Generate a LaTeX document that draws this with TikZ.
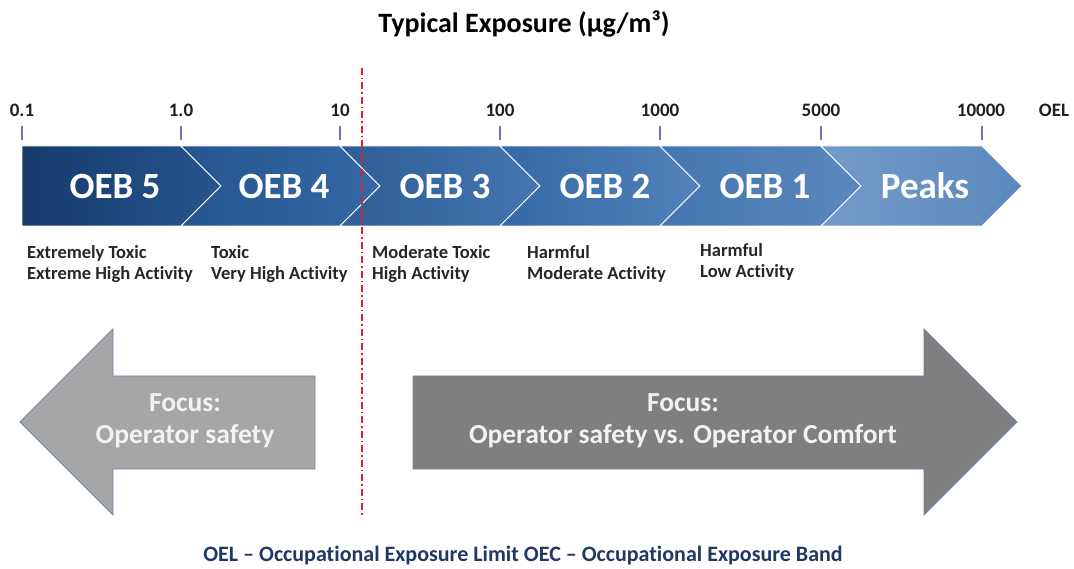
\documentclass[tikz,border=0pt]{standalone}
\usepackage{fontspec}
\setmainfont{Carlito}[Ligatures=NoCommon]
\usetikzlibrary{positioning}

\definecolor{bandA}{HTML}{163B6B}
\definecolor{bandB}{HTML}{25558F}
\definecolor{bandC}{HTML}{3468A6}
\definecolor{bandD}{HTML}{4576B1}
\definecolor{bandE}{HTML}{5382BA}
\definecolor{bandF}{HTML}{5B88BC}
\definecolor{peakL}{HTML}{729BC8}
\definecolor{tickblue}{HTML}{6F72C9}
\definecolor{splitred}{HTML}{E3202B}
\definecolor{lightarrow}{HTML}{A6A6A6}
\definecolor{darkarrow}{HTML}{7F7F7F}
\definecolor{arrowrim}{HTML}{7084A6}
\definecolor{notenavy}{HTML}{203864}

\begin{document}
\begin{tikzpicture}[
x=1pt, y=-1pt,
tick/.style={draw=tickblue, line width=1.4pt},
ticklabel/.style={%
    font=\bfseries\fontsize{19}{22}\selectfont,
    text=black!88,
},
band/.style={%
    draw=white, line width=0.9pt,
},
bandlabel/.style={%
    text=white,
    font=\bfseries\fontsize{37}{42}\selectfont,
},
descr/.style={%
    anchor=north west, align=left, inner sep=0pt,
    text=black!85,
    font=\bfseries\fontsize{18.5}{21}\selectfont,
},
focusarrow/.style={%
    draw=arrowrim, line width=0.8pt,
},
focustext/.style={%
    align=center, text=white!95!black,
    font=\bfseries\fontsize{27.5}{32}\selectfont,
},
]
\useasboundingbox (0,0) rectangle (1074,569);

% Title
\node[font=\bfseries\fontsize{28}{32}\selectfont] at (524,24) (title)
    {Typical Exposure (µg/m³)};

% Ticks and scale values
\coordinate (t0) at (22,126);
\coordinate (t1) at (181,126);
\coordinate (t2) at (340,126);
\coordinate (t3) at (500,126);
\coordinate (t4) at (660,126);
\coordinate (t5) at (821,126);
\coordinate (t6) at (982,126);
\foreach \t in {t0,t1,t2,t3,t4,t5,t6}
    \draw[tick] (\t) -- ++(0,14);

\node[ticklabel] at (22,110)   (v0)   {0.1};
\node[ticklabel] at (181,110)  (v1)   {1.0};
\node[ticklabel] at (340,110)  (v2)   {10};
\node[ticklabel] at (500,110)  (v3)   {100};
\node[ticklabel] at (660,110)  (v4)   {1000};
\node[ticklabel] at (821,110)  (v5)   {5000};
\node[ticklabel] at (981,110)  (v6)   {10000};
\node[ticklabel] at (1054,110) (oel)  {OEL};

% Chevron band
\draw[band, left color=bandA, right color=bandB]
    (22,146) -- (181,146) -- (221,186) -- (181,226) -- (22,226) -- cycle;
\draw[band, left color=bandB, right color=bandC]
    (181,146) -- (340,146) -- (380,186) -- (340,226) -- (181,226) -- (221,186) -- cycle;
\draw[band, left color=bandC!90!black, right color=bandD]
    (340,146) -- (500,146) -- (540,186) -- (500,226) -- (340,226) -- (380,186) -- cycle;
\draw[band, left color=bandC, right color=bandE]
    (500,146) -- (660,146) -- (700,186) -- (660,226) -- (500,226) -- (540,186) -- cycle;
\draw[band, left color=bandD, right color=bandF]
    (660,146) -- (821,146) -- (861,186) -- (821,226) -- (660,226) -- (700,186) -- cycle;
\draw[band, left color=peakL, right color=bandF]
    (821,146) -- (982,146) -- (1022,186) -- (982,226) -- (821,226) -- (861,186) -- cycle;

\node[bandlabel] at (115,186) (oeb5)  {OEB 5};
\node[bandlabel] at (284,186) (oeb4)  {OEB 4};
\node[bandlabel] at (445,186) (oeb3)  {OEB 3};
\node[bandlabel] at (605,186) (oeb2)  {OEB 2};
\node[bandlabel] at (765,186) (oeb1)  {OEB 1};
\node[bandlabel] at (925,186) (peaks) {Peaks};

% Descriptions under the band
\node[descr] at (27,245)  (d5) {Extremely Toxic\\Extreme High Activity};
\node[descr] at (211,245) (d4) {Toxic\\Very High Activity};
\node[descr] at (372,245) (d3) {Moderate Toxic\\High Activity};
\node[descr] at (527,245) (d2) {Harmful\\Moderate Activity};
\node[descr] at (700,243) (d1) {Harmful\\Low Activity};

% Focus arrows
\draw[focusarrow, fill=lightarrow]
    (20,422) -- (113,329) -- (113,376) -- (315,376) -- (315,469)
    -- (113,469) -- (113,515) -- cycle;
\draw[focusarrow, fill=darkarrow]
    (413,376) -- (924,376) -- (924,329) -- (1017,422) -- (924,515)
    -- (924,469) -- (413,469) -- cycle;

\node[focustext] at (185,421) (safety)  {Focus:\\Operator safety};
\node[focustext] at (683,421) (comfort) {Focus:\\Operator safety vs. Operator Comfort};

% Split line
\coordinate (splittop) at (362,68);
\coordinate (splitbot) at (362,517);
\draw[splitred, line width=1.6pt, dash pattern=on 7pt off 3pt on 1.5pt off 3pt]
    (splittop) -- (splitbot);

% Footnote
\node[font=\bfseries\fontsize{22}{26}\selectfont, text=notenavy] at (523,556) (note)
    {OEL – Occupational Exposure Limit OEC – Occupational Exposure Band};
\end{tikzpicture}
\end{document}
